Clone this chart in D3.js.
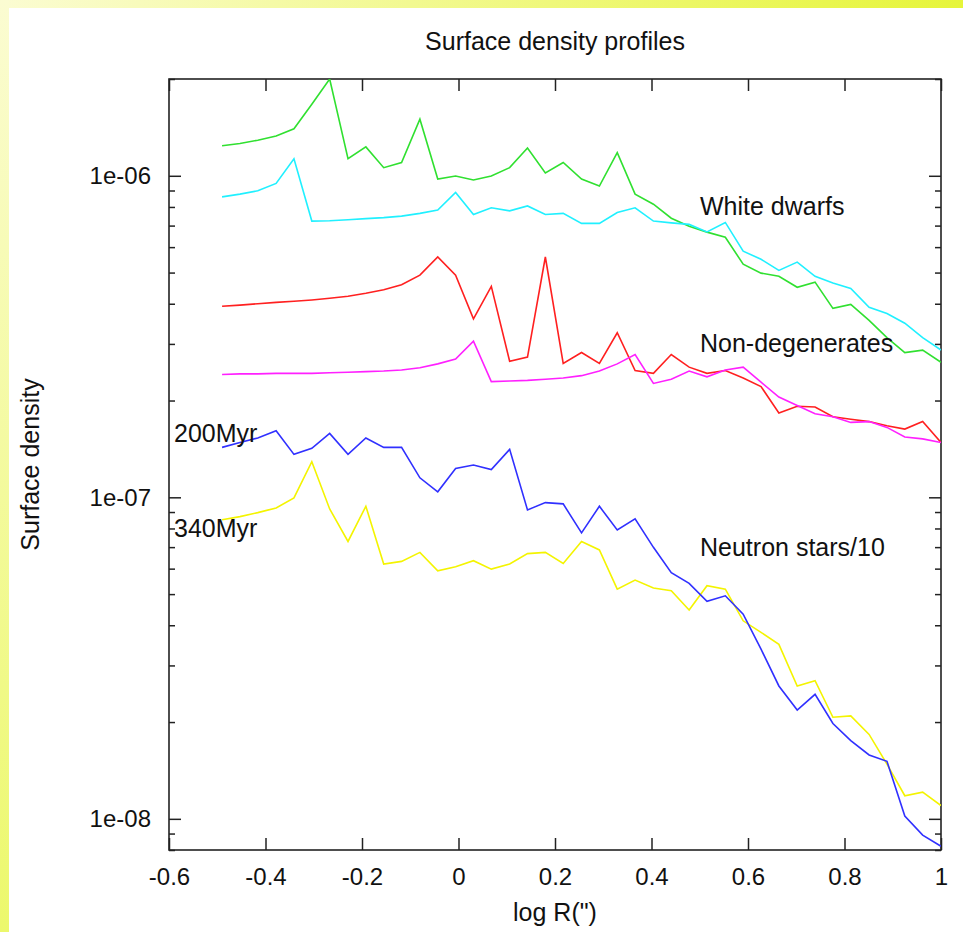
<!DOCTYPE html>
<html>
<head>
<meta charset="utf-8">
<script src="https://cdn.jsdelivr.net/npm/d3@7"></script>
<style>
  body { margin: 0; background: #fff; }
  text { font-family: "Liberation Sans", Arial, sans-serif; fill: #111; }
</style>
</head>
<body>
<div id="vis"></div>
<script>
// log R of the radial bins
const logR = [-0.490, -0.453, -0.416, -0.378, -0.341, -0.304, -0.267, -0.229, -0.192, -0.155,
  -0.118, -0.080, -0.043, -0.006, 0.031, 0.068, 0.106, 0.143, 0.180, 0.217,
  0.255, 0.292, 0.329, 0.366, 0.404, 0.441, 0.478, 0.515, 0.553, 0.590,
  0.627, 0.664, 0.702, 0.739, 0.776, 0.813, 0.851, 0.888, 0.925, 0.962, 1.000];

// white dwarfs
const greenSeries = [1.24e-6, 1.26e-6, 1.29e-6, 1.33e-6, 1.40e-6, 1.67e-6, 2.0e-6, 1.13e-6, 1.23e-6, 1.06e-6,
  1.10e-6, 1.50e-6, 9.77e-7, 9.98e-7, 9.70e-7, 9.98e-7, 1.06e-6, 1.22e-6, 1.02e-6, 1.10e-6,
  9.77e-7, 9.29e-7, 1.18e-6, 8.77e-7, 8.16e-7, 7.38e-7, 6.97e-7, 6.68e-7, 6.44e-7, 5.31e-7,
  4.98e-7, 4.87e-7, 4.50e-7, 4.67e-7, 3.87e-7, 3.98e-7, 3.55e-7, 3.14e-7, 2.82e-7, 2.87e-7, 2.63e-7];
const cyanSeries = [8.60e-7, 8.77e-7, 8.98e-7, 9.47e-7, 1.13e-6, 7.23e-7, 7.25e-7, 7.30e-7, 7.36e-7, 7.41e-7,
  7.49e-7, 7.64e-7, 7.82e-7, 8.88e-7, 7.58e-7, 7.95e-7, 7.78e-7, 8.06e-7, 7.58e-7, 7.64e-7,
  7.11e-7, 7.11e-7, 7.69e-7, 7.95e-7, 7.23e-7, 7.14e-7, 7.06e-7, 6.69e-7, 7.16e-7, 5.83e-7,
  5.50e-7, 5.08e-7, 5.39e-7, 4.87e-7, 4.64e-7, 4.46e-7, 3.90e-7, 3.73e-7, 3.48e-7, 3.14e-7, 2.87e-7];

// non-degenerates
const redSeries = [3.93e-7, 3.96e-7, 4.00e-7, 4.04e-7, 4.07e-7, 4.11e-7, 4.16e-7, 4.22e-7, 4.31e-7, 4.42e-7,
  4.58e-7, 4.91e-7, 5.59e-7, 4.91e-7, 3.59e-7, 4.53e-7, 2.65e-7, 2.73e-7, 5.59e-7, 2.61e-7,
  2.82e-7, 2.61e-7, 3.25e-7, 2.48e-7, 2.43e-7, 2.78e-7, 2.54e-7, 2.43e-7, 2.48e-7, 2.35e-7,
  2.21e-7, 1.83e-7, 1.92e-7, 1.91e-7, 1.78e-7, 1.75e-7, 1.72e-7, 1.67e-7, 1.63e-7, 1.72e-7, 1.48e-7];
const magentaSeries = [2.41e-7, 2.42e-7, 2.42e-7, 2.43e-7, 2.43e-7, 2.43e-7, 2.44e-7, 2.45e-7, 2.46e-7, 2.47e-7,
  2.49e-7, 2.53e-7, 2.60e-7, 2.69e-7, 3.06e-7, 2.29e-7, 2.30e-7, 2.31e-7, 2.33e-7, 2.35e-7,
  2.39e-7, 2.47e-7, 2.60e-7, 2.78e-7, 2.26e-7, 2.33e-7, 2.47e-7, 2.37e-7, 2.49e-7, 2.54e-7,
  2.28e-7, 2.05e-7, 1.93e-7, 1.82e-7, 1.78e-7, 1.71e-7, 1.72e-7, 1.65e-7, 1.54e-7, 1.52e-7, 1.48e-7];

// neutron stars / 10
const blueSeries = [1.43e-7, 1.48e-7, 1.53e-7, 1.61e-7, 1.36e-7, 1.42e-7, 1.58e-7, 1.36e-7, 1.53e-7, 1.43e-7,
  1.43e-7, 1.15e-7, 1.04e-7, 1.23e-7, 1.26e-7, 1.22e-7, 1.41e-7, 9.14e-8, 9.63e-8, 9.54e-8,
  7.75e-8, 9.38e-8, 7.92e-8, 8.57e-8, 6.99e-8, 5.83e-8, 5.40e-8, 4.75e-8, 4.94e-8, 4.33e-8,
  3.37e-8, 2.59e-8, 2.18e-8, 2.44e-8, 1.98e-8, 1.75e-8, 1.58e-8, 1.51e-8, 1.02e-8, 8.90e-9, 8.22e-9];
const yellowSeries = [8.52e-8, 8.71e-8, 8.96e-8, 9.27e-8, 9.96e-8, 1.29e-7, 9.20e-8, 7.29e-8, 9.38e-8, 6.20e-8,
  6.32e-8, 6.74e-8, 5.91e-8, 6.08e-8, 6.35e-8, 5.98e-8, 6.20e-8, 6.68e-8, 6.74e-8, 6.23e-8,
  7.29e-8, 6.86e-8, 5.18e-8, 5.53e-8, 5.22e-8, 5.12e-8, 4.46e-8, 5.31e-8, 5.18e-8, 4.13e-8,
  3.80e-8, 3.49e-8, 2.59e-8, 2.69e-8, 2.07e-8, 2.09e-8, 1.83e-8, 1.48e-8, 1.18e-8, 1.21e-8, 1.10e-8];

// ticks
const xTicks = [-0.6, -0.4, -0.2, 0, 0.2, 0.4, 0.6, 0.8, 1];
const yMajorTicks = [1e-8, 1e-7, 1e-6];
const yTickLabels = ['1e-08', '1e-07', '1e-06'];

// Create SVG
let width = 963,
  height = 932;

let margin = { top: 79, bottom: 82, left: 169, right: 22 };

let svg = d3.select('#vis')
  .append('svg')
  .attr('width', width)
  .attr('height', height);

// yellow border of the slide
let defs = svg.append('defs');
let gTop = defs.append('linearGradient').attr('id', 'gTop').attr('x1', 0).attr('x2', 1).attr('y1', 0).attr('y2', 0);
gTop.append('stop').attr('offset', 0).attr('stop-color', '#fbfcd2');
gTop.append('stop').attr('offset', 1).attr('stop-color', '#e6f53a');
let gLeft = defs.append('linearGradient').attr('id', 'gLeft').attr('x1', 0).attr('x2', 0).attr('y1', 0).attr('y2', 1);
gLeft.append('stop').attr('offset', 0).attr('stop-color', '#fbfcd2');
gLeft.append('stop').attr('offset', 1).attr('stop-color', '#ecf86c');

svg.append('rect').attr('x', 0).attr('y', 0).attr('width', width).attr('height', 8).attr('fill', 'url(#gTop)');
svg.append('rect').attr('x', 0).attr('y', 0).attr('width', 9).attr('height', height).attr('fill', 'url(#gLeft)');

defs.append('clipPath').attr('id', 'plotClip')
  .append('rect')
  .attr('x', margin.left).attr('y', margin.top)
  .attr('width', width - margin.left - margin.right)
  .attr('height', height - margin.top - margin.bottom);

// Define Scales
let xScale = d3.scaleLinear()
  .domain([-0.6, 1])
  .range([margin.left, width - margin.right]);

let yScale = d3.scaleLog()
  .domain([8e-9, 2e-6])
  .range([height - margin.bottom, margin.top]);

let yMinorTicks = yScale.ticks().filter(d => !yMajorTicks.some(m => Math.abs(m - d) / m < 1e-6));

function styleAxis(g) {
  g.select('.domain').remove();
  g.attr('color', '#222')
    .attr('font-size', 24)
    .attr('font-family', '"Liberation Sans", Arial, sans-serif');
  g.selectAll('line').attr('stroke-width', 1.5);
}

//Draw Axes
svg.append('g')
  .attr('transform', `translate(0,${height - margin.bottom})`)
  .call(d3.axisBottom(xScale).tickValues(xTicks).tickSizeInner(-12).tickSizeOuter(0).tickPadding(18).tickFormat(d => String(d)))
  .call(styleAxis);

svg.append('g')
  .attr('transform', `translate(0,${margin.top})`)
  .call(d3.axisTop(xScale).tickValues(xTicks).tickSizeInner(-12).tickSizeOuter(0).tickFormat(''))
  .call(styleAxis);

svg.append('g')
  .attr('transform', `translate(${margin.left},0)`)
  .call(d3.axisLeft(yScale).tickValues(yMajorTicks).tickSizeInner(-12).tickSizeOuter(0).tickPadding(18)
    .tickFormat((d, i) => yTickLabels[i]))
  .call(styleAxis);

svg.append('g')
  .attr('transform', `translate(${margin.left},0)`)
  .call(d3.axisLeft(yScale).tickValues(yMinorTicks).tickSizeInner(-6).tickSizeOuter(0).tickFormat(''))
  .call(styleAxis);

svg.append('g')
  .attr('transform', `translate(${width - margin.right},0)`)
  .call(d3.axisRight(yScale).tickValues(yMajorTicks).tickSizeInner(-12).tickSizeOuter(0).tickFormat(''))
  .call(styleAxis);

svg.append('g')
  .attr('transform', `translate(${width - margin.right},0)`)
  .call(d3.axisRight(yScale).tickValues(yMinorTicks).tickSizeInner(-6).tickSizeOuter(0).tickFormat(''))
  .call(styleAxis);

// frame
svg.append('rect')
  .attr('x', margin.left).attr('y', margin.top)
  .attr('width', width - margin.left - margin.right)
  .attr('height', height - margin.top - margin.bottom)
  .attr('fill', 'none')
  .attr('stroke', '#222')
  .attr('stroke-width', 1.6);

//Draw lines
let line = d3.line()
  .x((d, i) => xScale(logR[i]))
  .y(d => yScale(d));

let series = [
  { values: greenSeries, color: '#30e030' },
  { values: cyanSeries, color: '#20f0ff' },
  { values: redSeries, color: '#ff2020' },
  { values: magentaSeries, color: '#ff20ff' },
  { values: yellowSeries, color: '#f4f400' },
  { values: blueSeries, color: '#3030ff' }
];

svg.append('g')
  .attr('clip-path', 'url(#plotClip)')
  .selectAll('path')
  .data(series)
  .enter()
  .append('path')
  .attr('d', d => line(d.values))
  .attr('fill', 'none')
  .attr('stroke', d => d.color)
  .attr('stroke-width', 1.6)
  .attr('stroke-linejoin', 'miter');

//Add labels
svg.append('text')
  .attr('x', (margin.left + width - margin.right) / 2)
  .attr('y', 50)
  .attr('text-anchor', 'middle')
  .attr('font-size', 25)
  .text('Surface density profiles');

svg.append('text')
  .attr('x', (margin.left + width - margin.right) / 2)
  .attr('y', 921)
  .attr('text-anchor', 'middle')
  .attr('font-size', 25)
  .text('log R(")');

svg.append('text')
  .attr('transform', `translate(39,${(margin.top + height - margin.bottom) / 2}) rotate(-90)`)
  .attr('text-anchor', 'middle')
  .attr('font-size', 25)
  .text('Surface density');

let notes = [
  { text: 'White dwarfs', x: 700, y: 215 },
  { text: 'Non-degenerates', x: 700, y: 352 },
  { text: 'Neutron stars/10', x: 700, y: 556 },
  { text: '200Myr', x: 174, y: 442 },
  { text: '340Myr', x: 174, y: 537 }
];

svg.selectAll('.note')
  .data(notes)
  .enter()
  .append('text')
  .attr('class', 'note')
  .attr('x', d => d.x)
  .attr('y', d => d.y)
  .attr('font-size', 25)
  .text(d => d.text);
</script>
</body>
</html>
